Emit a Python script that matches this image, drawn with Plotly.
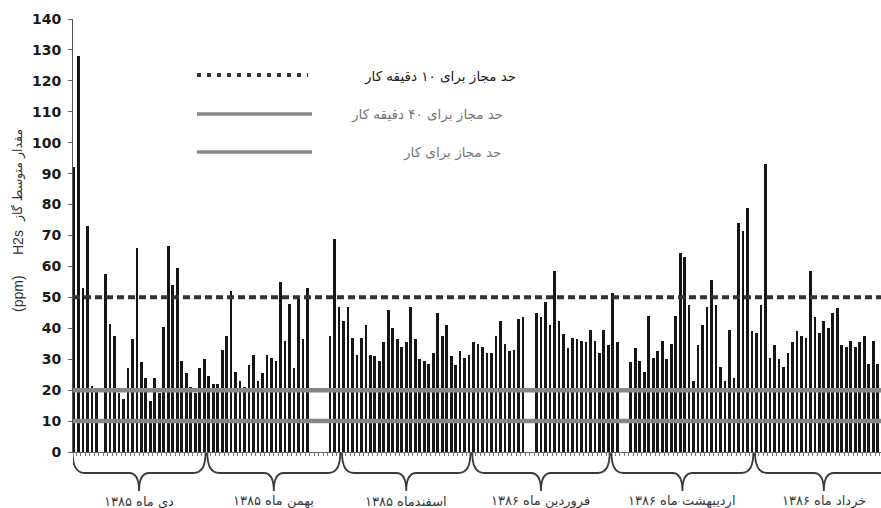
import plotly.graph_objects as go

# Daily mean H2S concentration (ppm), one value per bar, grouped by month
dey = [92, 128, 53, 73, 21.5, 20.5, 0, 57.5, 41.5, 37.5, 19, 17, 27, 36.5, 66,
       29, 24, 16.5, 24, 19, 40.5, 66.5, 54, 59.5, 29.5, 25.5, 21, 19, 27, 30]
bahman = [24.5, 22, 22, 33, 37.5, 52, 26, 23, 21, 28, 31.5, 23, 25.5, 31.5, 30.5,
          29.5, 55, 36, 48, 27, 49.5, 36.5, 53, 0, 0, 0, 0, 37.5, 69, 47]
esfand = [42.5, 47, 37, 31.5, 37, 41, 31.5, 31, 29.5, 35.5, 46, 40, 36.5, 34, 35.5,
          47, 36.5, 30, 29.5, 28.5, 32, 45, 37.5, 41, 31, 28, 32.5, 30.5, 31.5]
farvardin = [35.5, 35, 34, 32, 32, 37.5, 42.5, 35, 32.5, 33, 43, 43.5, 0, 0, 45,
             43.5, 48.5, 41, 58.5, 42.5, 38, 33.5, 37, 36.5, 36, 35.5, 39.5, 36,
             32, 39.5, 34.5]
ordibehesht = [51.5, 35.5, 0, 0, 29, 33.5, 29.5, 26, 44, 30.5, 32.5, 36, 30, 35,
               44, 64.5, 63, 47.5, 23, 34.5, 41, 47, 55.5, 47.5, 27.5, 23, 39.5,
               24, 74, 71.5, 79, 39]
khordad = [38.5, 47.5, 93, 30.5, 34.5, 30, 27.5, 32, 35.5, 39, 37.5, 37, 58.5,
           43.5, 38.5, 42.5, 40, 45, 46.5, 34.5, 34, 36, 34, 35.5, 37.5, 28.5,
           36, 28.5]
KHORDAD_DAYS = 31  # the month runs past the right edge of the chart

month_labels = ["دی ماه ۱۳۸۵", "بهمن ماه ۱۳۸۵", "اسفندماه ۱۳۸۵",
                "فروردین ماه ۱۳۸۶", "اردیبهشت ماه ۱۳۸۶", "خرداد ماه ۱۳۸۶"]

# Exposure limits (ppm)
limit_10min = 50
limit_40min = 20
limit_shift = 10
limit_labels = ["حد مجاز برای ۱۰ دقیقه کار",
                "حد مجاز برای ۴۰ دقیقه کار",
                "حد مجاز برای کار"]

y_ticks = list(range(0, 141, 10))

months = [dey, bahman, esfand, farvardin, ordibehesht, khordad]
values = [v for m in months for v in m]
idx = list(range(len(values)))

W, H = 881, 508
L, R, T, B = 73, 0, 19, 56
pw, ph = W - L - R, H - T - B
x_lo, x_hi = -0.22, 179.73
ppu = pw / (x_hi - x_lo)          # pixels per bar slot


def px_x(p):
    return (p - L) / pw


def px_y(p):
    return (H - B - p) / ph


fig = go.Figure()
fig.add_trace(go.Bar(x=idx, y=values, width=0.6,
                     marker=dict(color="#161616", line=dict(width=0)),
                     showlegend=False))

shapes = []
# limit lines across the plot
shapes.append(dict(type="line", xref="paper", yref="y", x0=0, x1=1,
                   y0=limit_10min, y1=limit_10min, layer="above",
                   line=dict(color="#333333", width=4, dash="7px,4px")))
for lim in (limit_40min, limit_shift):
    shapes.append(dict(type="line", xref="paper", yref="y", x0=0, x1=1,
                       y0=lim, y1=lim, layer="above",
                       line=dict(color="#868686", width=4.5)))

# curly braces under each month
spans = [len(m) for m in months[:-1]] + [KHORDAD_DAYS]
y_top, y_mid, y_tip = px_y(453), px_y(473), px_y(491)
r_end = 12 / ppu
r_mid = 10 / ppu
annotations = []
start = 0
for span, label in zip(spans, month_labels):
    x0 = start - 0.5 + 0.2
    x1 = start + span - 0.5 - 0.2
    xm = (x0 + x1) / 2
    path = (f"M {x0},{y_top} Q {x0},{y_mid} {x0 + r_end},{y_mid} "
            f"L {xm - r_mid},{y_mid} Q {xm},{y_mid} {xm},{y_tip} "
            f"Q {xm},{y_mid} {xm + r_mid},{y_mid} "
            f"L {x1 - r_end},{y_mid} Q {x1},{y_mid} {x1},{y_top}")
    shapes.append(dict(type="path", xref="x", yref="paper", path=path,
                       line=dict(color="#3a3a3a", width=1.8)))
    annotations.append(dict(x=xm, y=px_y(501), xref="x", yref="paper",
                            text=label, showarrow=False, xanchor="center",
                            yanchor="middle",
                            font=dict(family="DejaVu Sans", size=13,
                                      color="#3a3a3a")))
    start += span

# legend drawn as line samples with labels
leg_rows = [(75, 308, 518, "#222222"), (114, 312, 505, "#777777"),
            (152, 312, 503, "#777777")]
for k, (yy, xe, xt, tc) in enumerate(leg_rows):
    if k == 0:
        ln = dict(color="#333333", width=4, dash="4px,6px")
    else:
        ln = dict(color="#888888", width=3.5)
    shapes.append(dict(type="line", xref="paper", yref="paper",
                       x0=px_x(197), x1=px_x(xe), y0=px_y(yy), y1=px_y(yy),
                       line=ln))
    annotations.append(dict(x=px_x(xt), y=px_y(yy + 1), xref="paper",
                            yref="paper", text=limit_labels[k],
                            showarrow=False, xanchor="right",
                            yanchor="middle",
                            font=dict(family="DejaVu Sans", size=13.5,
                                      color=tc)))

# vertical axis title pieces
title_parts = [("مقدار متوسط گاز", 175, "DejaVu Sans", 12.5),
               ("H2s", 242, "Liberation Sans", 14),
               ("(ppm)", 293, "Liberation Sans", 14)]
for txt, yc, fam, sz in title_parts:
    annotations.append(dict(x=px_x(18), y=px_y(yc), xref="paper",
                            yref="paper", text=txt, showarrow=False,
                            textangle=-90, xanchor="center", yanchor="middle",
                            font=dict(family=fam, size=sz, color="#333333")))

fig.update_layout(
    width=W, height=H,
    margin=dict(l=L, r=R, t=T, b=B, pad=0),
    paper_bgcolor="white", plot_bgcolor="white",
    bargap=0, shapes=shapes, annotations=annotations,
    xaxis=dict(range=[x_lo, x_hi], showgrid=False, zeroline=False,
               showline=True, linecolor="#666666", linewidth=1,
               tickmode="linear", tick0=-0.5, dtick=1, ticks="outside",
               ticklen=3, tickcolor="#777777", showticklabels=False),
    yaxis=dict(range=[0, 140], tickvals=y_ticks, showgrid=False,
               zeroline=False, showline=True, linecolor="#555555",
               linewidth=1, ticks="outside", ticklen=4, tickcolor="#666666",
               ticklabelstandoff=4,
               tickfont=dict(family="DejaVu Sans", size=14, color="#1a1a1a",
                             weight="bold")),
)

fig.write_html("out.html")
